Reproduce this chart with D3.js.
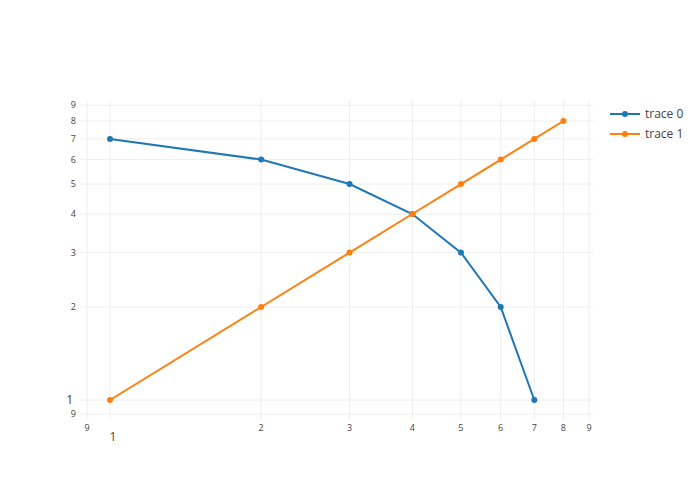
<!DOCTYPE html>
<html><head><meta charset="utf-8">
<script src="https://cdn.jsdelivr.net/npm/d3@7"></script>
<style>body{margin:0;background:#fff}svg{font-family:"Open Sans",sans-serif}</style>
</head><body><svg id="c" width="700" height="500"></svg>
<script>
const trace0X = [1,2,3,4,5,6,7];
const trace0Y = [7,6,5,4,3,2,1];
const trace1X = [1,2,3,4,5,6,7,8];
const trace1Y = [1,2,3,4,5,6,7,8];
const tickVals = [0.9,1,2,3,4,5,6,7,8,9];
const tickLabels = ["9","1","2","3","4","5","6","7","8","9"];
const names = ["trace 0","trace 1"];
const colors = ["#1f77b4","#ff7f0e"];

const svg = d3.select("#c");
const L=80, R=593, T=100, B=420;
const x = d3.scaleLog().domain([Math.pow(10,-0.0598), Math.pow(10,0.962)]).range([L,R]);
const y = d3.scaleLog().domain([Math.pow(10,-0.0647), Math.pow(10,0.971)]).range([B,T]);

const g = svg.append("g");
tickVals.forEach(v=>{
  g.append("line").attr("x1",x(v)).attr("x2",x(v)).attr("y1",T).attr("y2",B).attr("stroke","#eee").attr("stroke-width",1);
  g.append("line").attr("y1",y(v)).attr("y2",y(v)).attr("x1",L).attr("x2",R).attr("stroke","#eee").attr("stroke-width",1);
});
tickVals.forEach((v,i)=>{
  const big = v===1;
  g.append("text").attr("x",x(v)+(big?3:0)).attr("y",big?441:431).attr("text-anchor","middle")
    .attr("font-size",big?12:9).attr("fill","#444").text(tickLabels[i]);
  g.append("text").attr("x",big?73:76).attr("y",y(v)+(big?4:3)).attr("text-anchor","end")
    .attr("font-size",big?12:9).attr("fill","#444").text(tickLabels[i]);
});

const series = [[trace0X,trace0Y],[trace1X,trace1Y]];
const line = d3.line().x(d=>x(d[0])).y(d=>y(d[1]));
series.forEach((s,k)=>{
  const pts = s[0].map((v,i)=>[v,s[1][i]]);
  svg.append("path").datum(pts).attr("d",line).attr("fill","none").attr("stroke",colors[k]).attr("stroke-width",2);
  svg.selectAll(null).data(pts).enter().append("circle").attr("cx",d=>x(d[0])).attr("cy",d=>y(d[1])).attr("r",3).attr("fill",colors[k]);
});

names.forEach((n,k)=>{
  const ly = 114 + k*20;
  svg.append("line").attr("x1",610).attr("x2",640).attr("y1",ly).attr("y2",ly).attr("stroke",colors[k]).attr("stroke-width",2);
  svg.append("circle").attr("cx",625).attr("cy",ly).attr("r",3).attr("fill",colors[k]);
  svg.append("text").attr("x",645).attr("y",ly+4).attr("font-size",12).attr("fill","#444").text(n);
});
</script></body></html>
